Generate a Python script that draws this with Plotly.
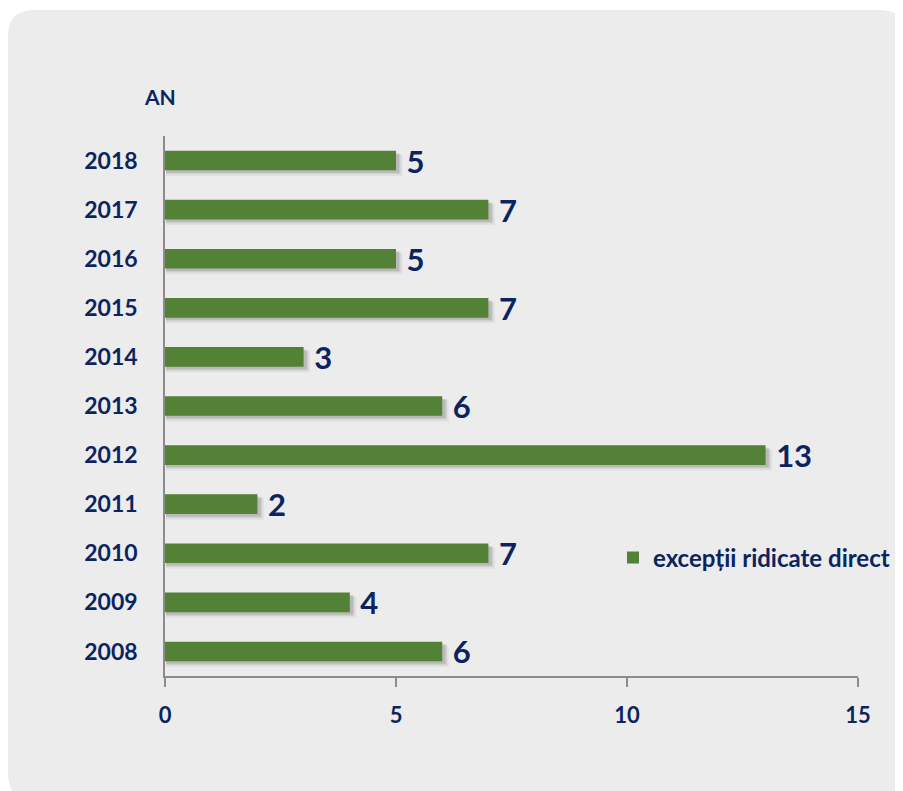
import plotly.graph_objects as go

years = ["2008", "2009", "2010", "2011", "2012", "2013", "2014", "2015", "2016", "2017", "2018"]
values = [6, 4, 7, 2, 13, 6, 3, 7, 5, 7, 5]
series_name = "excepții ridicate direct"
x_ticks = [0, 5, 10, 15]

# page offset (browser body margin)
OFF = 8
W, H = 903 - OFF, 791 - OFF
# plot area in page pixels: x 165..858, y 136..676
ML = 165 - OFF
MT = 136 - OFF
MR = W - (858 - OFF)
MB = H - (676 - OFF)
PW, PH = W - ML - MR, H - MT - MB

NAVY = "#0B2460"
GREEN = "#538135"
PANEL = "#ECECEC"
FONT = "Lato, 'Open Sans', sans-serif"


def px(xp):
    # page pixel x -> paper
    return (xp - OFF - ML) / PW


def py(yp):
    # page pixel y -> paper
    return (H - MB - (yp - OFF)) / PH


def rounded_rect(x0, y0, x1, y1, r):
    pts = [
        f"M {px(x0 + r)} {py(y0)}",
        f"L {px(x1 - r)} {py(y0)}",
        f"Q {px(x1)} {py(y0)} {px(x1)} {py(y0 + r)}",
        f"L {px(x1)} {py(y1 - r)}",
        f"Q {px(x1)} {py(y1)} {px(x1 - r)} {py(y1)}",
        f"L {px(x0 + r)} {py(y1)}",
        f"Q {px(x0)} {py(y1)} {px(x0)} {py(y1 - r)}",
        f"L {px(x0)} {py(y0 + r)}",
        f"Q {px(x0)} {py(y0)} {px(x0 + r)} {py(y0)}",
        "Z",
    ]
    return " ".join(pts)


bw = 0.4
fig = go.Figure()

# soft drop shadow layers
for alpha, dx, dy, grow in [(0.05, 0.12, 0.10, 0.03), (0.08, 0.08, 0.07, 0.01), (0.10, 0.05, 0.05, 0.0)]:
    fig.add_trace(go.Bar(
        y=years, x=[v + dx for v in values], base=0.02,
        orientation="h", width=bw + grow, offset=-(bw + grow) / 2 - dy,
        marker=dict(color=f"rgba(0,0,0,{alpha})", line=dict(width=0)),
        showlegend=False, hoverinfo="skip",
    ))

fig.add_trace(go.Bar(
    y=years, x=values, orientation="h", width=bw, offset=-bw / 2,
    name=series_name,
    marker=dict(color=GREEN, line=dict(width=0)),
    texttemplate=" %{x}", textposition="outside",
    constraintext="none",
    textfont=dict(family=FONT, size=31, color=NAVY, weight="bold"),
    cliponaxis=False,
))

fig.update_layout(
    width=W, height=H,
    margin=dict(l=ML, r=MR, t=MT, b=MB, autoexpand=False),
    paper_bgcolor="white",
    plot_bgcolor="rgba(0,0,0,0)",
    barmode="overlay",
    font=dict(family=FONT, color=NAVY),
    shapes=[dict(
        type="path", xref="paper", yref="paper", layer="below",
        path=rounded_rect(8, 10, 905, 800, 26),
        fillcolor=PANEL, line=dict(width=0),
    )],
    annotations=[dict(
        text="<b>AN</b>", xref="paper", yref="paper",
        x=px(159.5), y=py(96.5), xanchor="center", yanchor="middle",
        showarrow=False,
        font=dict(family=FONT, size=21, color=NAVY),
    )],
    legend=dict(
        x=px(613), y=py(558), xanchor="left", yanchor="middle",
        bgcolor="rgba(0,0,0,0)", itemwidth=30,
        font=dict(family=FONT, size=24, color=NAVY, weight="bold"),
    ),
    xaxis=dict(
        range=[0, 15], tickvals=x_ticks, showgrid=False, zeroline=False,
        showline=True, linecolor="#8C8C8C", linewidth=1.5,
        ticks="outside", ticklen=9, tickcolor="#8C8C8C", tickwidth=1.5,
        tickfont=dict(family=FONT, size=22, color=NAVY, weight="bold"),
        ticklabelstandoff=10,
    ),
    yaxis=dict(
        categoryorder="array", categoryarray=years,
        range=[-0.5, len(years) - 0.5],
        showgrid=False, zeroline=False,
        showline=True, linecolor="#8C8C8C", linewidth=1.5,
        ticks="", ticklabelstandoff=21,
        tickfont=dict(family=FONT, size=23, color=NAVY, weight="bold"),
    ),
)

fig.write_html("out.html")
